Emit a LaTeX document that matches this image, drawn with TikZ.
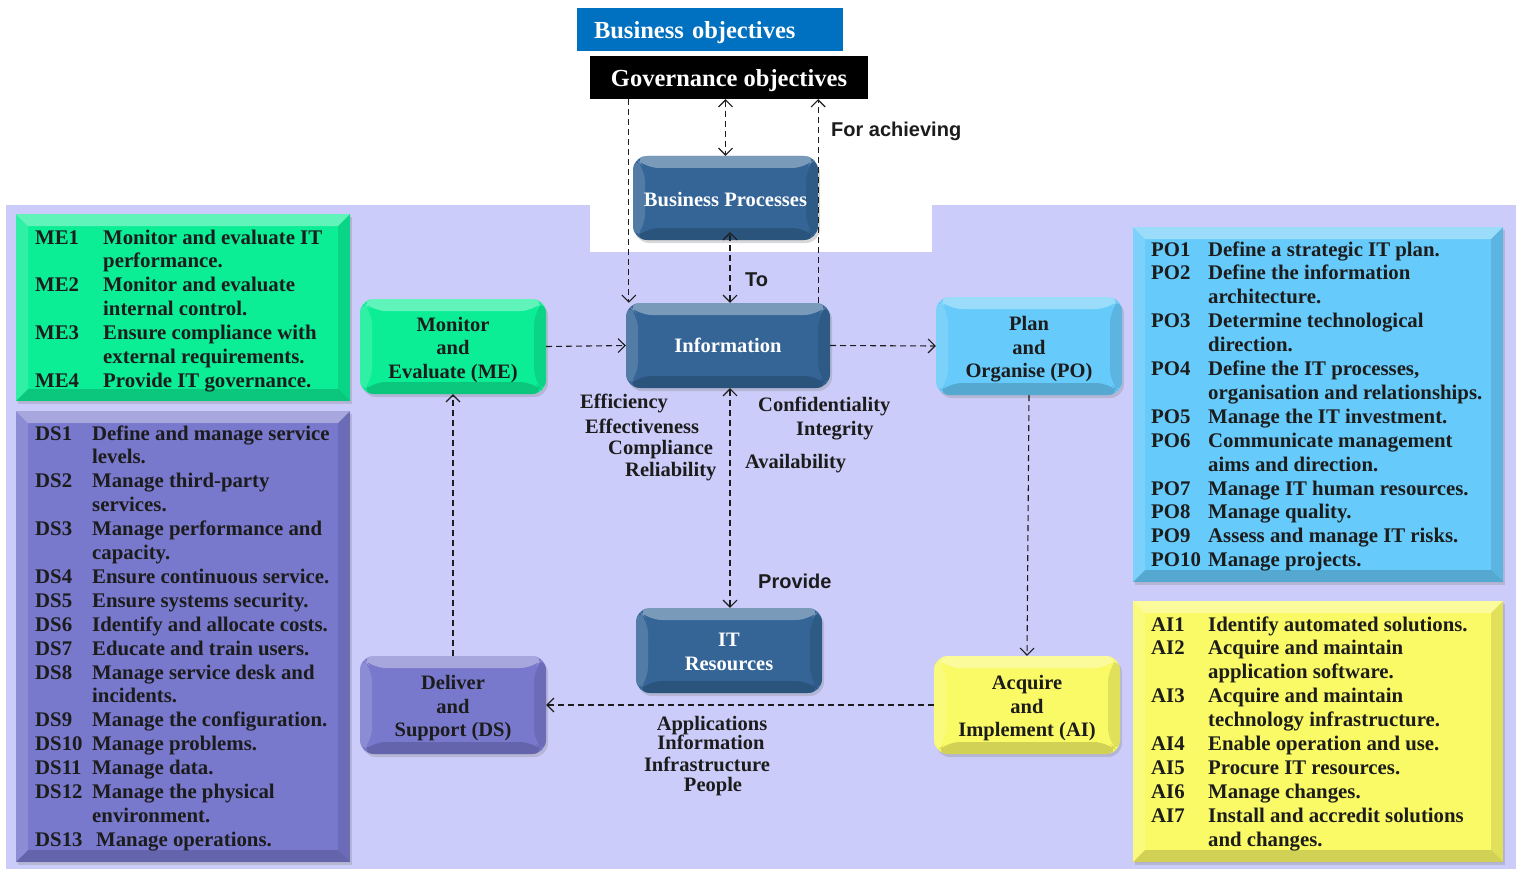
\documentclass[tikz,border=0pt]{standalone}
\usepackage{fontspec}
\setmainfont{Liberation Serif}
\newfontfamily\sansf{Liberation Sans}
\usetikzlibrary{arrows.meta,shadows}

\definecolor{lav}{RGB}{204,204,250}
\definecolor{boblue}{RGB}{0,112,192}
\definecolor{dblue}{RGB}{52,101,150}
\definecolor{lblue}{RGB}{102,202,250}
\definecolor{mgreen}{RGB}{12,238,150}
\definecolor{mpurple}{RGB}{120,120,205}
\definecolor{myellow}{RGB}{250,250,102}
\definecolor{ink}{RGB}{28,28,28}

\newcommand\lowtext[2][3.5pt]{\raisebox{-#1}[\height][\depth]{\begin{tabular}{@{}c@{}}#2\end{tabular}}}

\tikzset{
  every node/.style={inner sep=0pt, text=ink, font=\bfseries\fontsize{20.5}{23.5}\selectfont},
  bevelpp/.style={path picture={
    \fill[white,opacity=.35] (path picture bounding box.north west) -- (path picture bounding box.north east)
      -- ([shift={(-12pt,-12pt)}]path picture bounding box.north east) -- ([shift={(12pt,-12pt)}]path picture bounding box.north west) -- cycle;
    \fill[white,opacity=.15] (path picture bounding box.north west) -- ([shift={(12pt,-12pt)}]path picture bounding box.north west)
      -- ([shift={(12pt,12pt)}]path picture bounding box.south west) -- (path picture bounding box.south west) -- cycle;
    \fill[black,opacity=.10] (path picture bounding box.north east) -- (path picture bounding box.south east)
      -- ([shift={(-12pt,12pt)}]path picture bounding box.south east) -- ([shift={(-12pt,-12pt)}]path picture bounding box.north east) -- cycle;
    \fill[black,opacity=.16] (path picture bounding box.south west) -- (path picture bounding box.south east)
      -- ([shift={(-12pt,12pt)}]path picture bounding box.south east) -- ([shift={(12pt,12pt)}]path picture bounding box.south west) -- cycle;
  }},
  procbox/.style={rounded corners=14pt, align=center, fill=#1, bevelpp,
    drop shadow={opacity=0.3, shadow xshift=2pt, shadow yshift=-3pt}},
  listbox/.style={fill=#1, bevelpp,
    drop shadow={opacity=0.3, shadow xshift=2pt, shadow yshift=-3pt}},
  listtext/.style={anchor=base west, font=\bfseries\fontsize{20.8}{23.9}\selectfont},
  lbl/.style={anchor=base west},
  clbl/.style={anchor=base},
  slbl/.style={anchor=base west, font=\sansf\bfseries\fontsize{20}{23}\selectfont},
  conn/.style={draw=ink, line width=1.1pt, dash pattern=on 6pt off 4pt,
    -{Straight Barb[length=7pt,width=14pt]}},
  dconn/.style={conn, {Straight Barb[length=7pt,width=14pt]}-{Straight Barb[length=7pt,width=14pt]}},
}

\begin{document}
\begin{tikzpicture}[x=1pt,y=-1pt]
\useasboundingbox (0,0) rectangle (1522,869);
\fill[white] (0,0) rectangle (1522,869);
% background panel
\fill[lav] (6,205) rectangle (1516,869);
\fill[white] (590,205) rectangle (932,252);

% top objectives
\node[fill=boblue, minimum width=266pt, minimum height=43pt, text width=232pt, align=left,
      text=white, font=\bfseries\fontsize{24.5}{28}\selectfont] (bo) at (710,29.5) {\raisebox{-3pt}[\height][\depth]{Business objectives}};
\node[fill=black, minimum width=278pt, minimum height=43pt, align=center,
      text=white, font=\bfseries\fontsize{24.5}{28}\selectfont] (gov) at (729,77.5) {\raisebox{-3pt}[\height][\depth]{Governance objectives}};

% process boxes
\node[procbox=dblue, minimum width=185pt, minimum height=84pt, text=white] (bp) at (725.5,198) {\lowtext{Business Processes}};
\node[procbox=dblue, minimum width=204pt, minimum height=85pt, text=white] (info) at (728,345.5) {\lowtext[2pt]{Information}};
\node[procbox=dblue, minimum width=186pt, minimum height=85pt, text=white] (itr) at (729,650.5) {\lowtext{IT\\Resources}};
\node[procbox=lblue, minimum width=186pt, minimum height=98pt] (po) at (1029,346) {\lowtext{Plan\\and\\Organise (PO)}};
\node[procbox=mgreen, minimum width=186pt, minimum height=95pt] (me) at (453,346.5) {\lowtext{Monitor\\and\\Evaluate (ME)}};
\node[procbox=myellow, minimum width=186pt, minimum height=98pt] (ai) at (1027,705) {\lowtext{Acquire\\and\\Implement (AI)}};
\node[procbox=mpurple, minimum width=186pt, minimum height=98pt] (ds) at (453,705) {\lowtext{Deliver\\and\\Support (DS)}};

% list boxes
\node[listbox=mgreen, minimum width=334pt, minimum height=187pt] (mel) at (183,307.5) {};
\node[listbox=mpurple, minimum width=334pt, minimum height=451pt] (dsl) at (183,636.5) {};
\node[listbox=lblue, minimum width=370pt, minimum height=355pt] (pol) at (1318,404.5) {};
\node[listbox=myellow, minimum width=370pt, minimum height=261pt] (ail) at (1318,731.5) {};

\node[listtext] (met) at (35,244) {\begin{tabular}[t]{@{}p{68pt}@{}l@{}}
ME1 & Monitor and evaluate IT\\
 & performance.\\
ME2 & Monitor and evaluate\\
 & internal control.\\
ME3 & Ensure compliance with\\
 & external requirements.\\
ME4 & Provide IT governance.
\end{tabular}};

\node[listtext] (dst) at (35,440) {\begin{tabular}[t]{@{}p{57pt}@{}l@{}}
DS1 & Define and manage service\\
 & levels.\\
DS2 & Manage third-party\\
 & services.\\
DS3 & Manage performance and\\
 & capacity.\\
DS4 & Ensure continuous service.\\
DS5 & Ensure systems security.\\
DS6 & Identify and allocate costs.\\
DS7 & Educate and train users.\\
DS8 & Manage service desk and\\
 & incidents.\\
DS9 & Manage the configuration.\\
DS10 & Manage problems.\\
DS11 & Manage data.\\
DS12 & Manage the physical\\
 & environment.\\
DS13 & \hspace{4pt}Manage operations.
\end{tabular}};

\node[listtext] (pot) at (1151,256) {\begin{tabular}[t]{@{}p{57pt}@{}l@{}}
PO1 & Define a strategic IT plan.\\
PO2 & Define the information\\
 & architecture.\\
PO3 & Determine technological\\
 & direction.\\
PO4 & Define the IT processes,\\
 & organisation and relationships.\\
PO5 & Manage the IT investment.\\
PO6 & Communicate management\\
 & aims and direction.\\
PO7 & Manage IT human resources.\\
PO8 & Manage quality.\\
PO9 & Assess and manage IT risks.\\
PO10 & Manage projects.
\end{tabular}};

\node[listtext] (ait) at (1151,631) {\begin{tabular}[t]{@{}p{57pt}@{}l@{}}
AI1 & Identify automated solutions.\\
AI2 & Acquire and maintain\\
 & application software.\\
AI3 & Acquire and maintain\\
 & technology infrastructure.\\
AI4 & Enable operation and use.\\
AI5 & Procure IT resources.\\
AI6 & Manage changes.\\
AI7 & Install and accredit solutions\\
 & and changes.
\end{tabular}};

% criteria labels
\node[lbl] (eff) at (580,408) {Efficiency};
\node[lbl] (efv) at (585,433) {Effectiveness};
\node[lbl] (cmp) at (608,454) {Compliance};
\node[lbl] (rel) at (625,476) {Reliability};
\node[lbl] (con) at (758,411) {Confidentiality};
\node[lbl] (int) at (796,435) {Integrity};
\node[lbl] (ava) at (745,468) {Availability};

\node[clbl] (rapp) at (712,730) {Applications};
\node[clbl] (rinf) at (711,749) {Information};
\node[clbl] (rinfr) at (707,771) {Infrastructure};
\node[clbl] (rpeo) at (713,791) {People};

\node[slbl] (forach) at (831,137) {For achieving};
\node[slbl] (to) at (745,286) {To};
\node[slbl] (prov) at (758,588) {Provide};

% connectors
\draw[conn] ([xshift=3pt]info.north west |- gov.south) -- ([xshift=3pt]info.north west);
\draw[dconn] (bp.north |- gov.south) -- (bp.north);
\draw[dconn] ([xshift=2pt]info.north) -- ([xshift=2pt,yshift=8pt]info.north |- bp.south);
\draw[conn] ([xshift=-12pt]info.north east) -- ([xshift=-12pt]info.north east |- gov.south);
\draw[conn] (me.east) -- (info.west);
\draw[conn] (info.east) -- (po.west);
\draw[conn] (po.south) -- (ai.north);
\draw[conn] (ai.west) -- (ds.east);
\draw[conn] (ds.north) -- (me.south);
\draw[dconn] ([xshift=2pt]info.south) -- ([xshift=1pt]itr.north);
\end{tikzpicture}
\end{document}
